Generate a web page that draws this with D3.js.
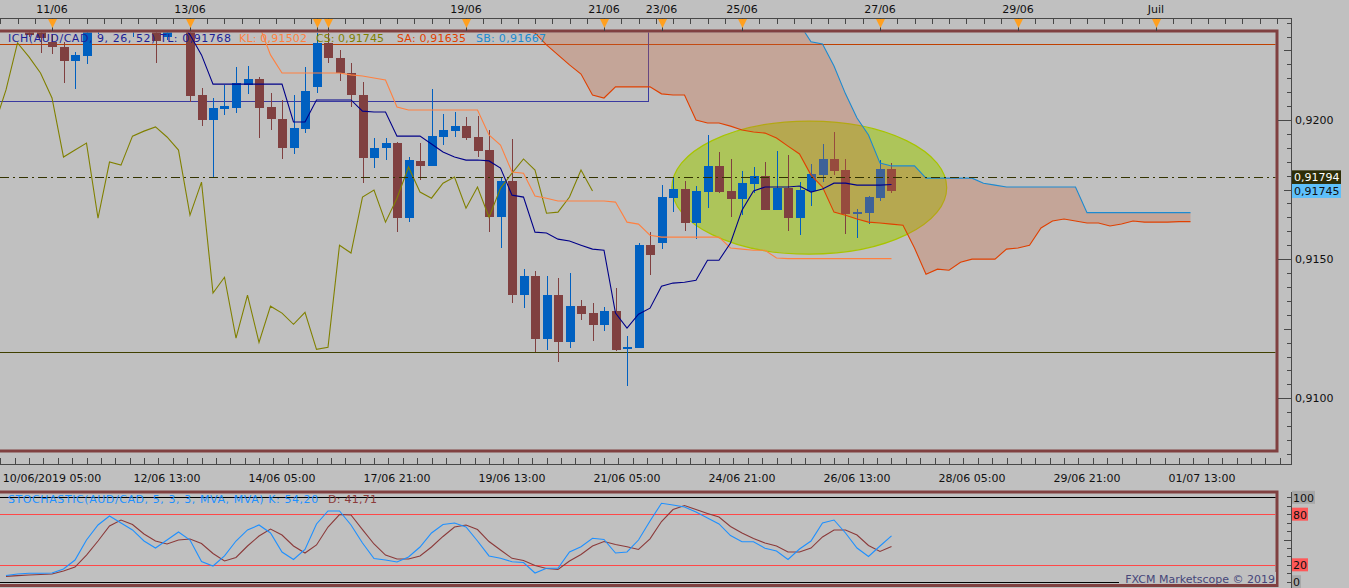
<!DOCTYPE html>
<html lang="fr">
<head>
<meta charset="utf-8">
<title>AUD/CAD - Ichimoku / Stochastic</title>
<script src="https://d3js.org/d3.v7.min.js"></script>
<style>
  body { margin: 0; background: #c0c0c0; overflow: hidden; }
  svg { display: block; font-family: "DejaVu Sans", Verdana, sans-serif; font-size: 11px; }
</style>
</head>
<body>
<script>
// 4h bars, bar 0 = 12/06 13:00, first bar in the arrays = -14
var firstBar = -14;
var open = [0.92345,0.92355,0.92331,0.92331,0.92281,0.92264,0.92213,0.92230,0.92320,0.92350,0.92340,0.92342,0.92360,0.92360,
  0.92300,0.92353,0.92353,0.92090,0.92000,0.92040,0.92043,0.92126,0.92147,0.92047,
  0.92004,0.91899,0.91968,0.92119,0.92277,0.92223,0.92169,0.92090,0.91863,0.91899,
  0.91917,0.91647,0.91853,0.91835,0.91939,0.91960,0.91978,0.91939,0.91892,0.91651,
  0.91781,0.91371,0.91439,0.91212,0.91371,0.91201,0.91331,0.91306,0.91263,0.91313,
  0.91176,0.91180,0.91550,0.91558,0.91719,0.91752,0.91630,0.91741,0.91835,0.91745,
  0.91716,0.91770,0.91799,0.91676,0.91755,0.91647,0.91745,0.91802,0.91860,0.91820,
  0.91662,0.91665,0.91719,0.91824];
var high = [0.92365,0.92375,0.92342,0.92338,0.92306,0.92281,0.92245,0.92327,0.92360,0.92380,0.92370,0.92378,0.92385,0.92378,
  0.92367,0.92375,0.92367,0.92115,0.92079,0.92126,0.92191,0.92194,0.92155,0.92097,
  0.92072,0.92090,0.92191,0.92313,0.92313,0.92252,0.92205,0.92137,0.91935,0.91935,
  0.91921,0.91867,0.91917,0.92112,0.92022,0.92029,0.92011,0.92014,0.91964,0.91791,
  0.91932,0.91464,0.91457,0.91439,0.91432,0.91450,0.91353,0.91342,0.91327,0.91396,
  0.91223,0.91558,0.91597,0.91766,0.91795,0.91781,0.91763,0.91946,0.91885,0.91860,
  0.91817,0.91831,0.91849,0.91888,0.91874,0.91777,0.91842,0.91914,0.91957,0.91860,
  0.91680,0.91727,0.91856,0.91845];
var low = [0.92330,0.92335,0.92299,0.92241,0.92237,0.92133,0.92113,0.92201,0.92310,0.92330,0.92325,0.92299,0.92335,0.92205,
  0.92288,0.92330,0.92065,0.91978,0.91795,0.92018,0.92025,0.92094,0.91935,0.91964,
  0.91860,0.91878,0.91953,0.92097,0.92205,0.92140,0.92047,0.91773,0.91827,0.91856,
  0.91597,0.91633,0.91784,0.91835,0.91910,0.91939,0.91928,0.91867,0.91597,0.91540,
  0.91342,0.91324,0.91166,0.91173,0.91129,0.91180,0.91281,0.91205,0.91241,0.91170,
  0.91043,0.91180,0.91442,0.91536,0.91669,0.91601,0.91572,0.91683,0.91737,0.91651,
  0.91658,0.91737,0.91676,0.91676,0.91601,0.91586,0.91691,0.91777,0.91802,0.91590,
  0.91576,0.91626,0.91709,0.91737];
var close = [0.92355,0.92340,0.92306,0.92295,0.92263,0.92213,0.92234,0.92320,0.92350,0.92340,0.92360,0.92360,0.92345,0.92285,
  0.92353,0.92340,0.92086,0.92000,0.92043,0.92050,0.92133,0.92147,0.92043,0.92004,
  0.91899,0.91971,0.92104,0.92277,0.92223,0.92169,0.92090,0.91863,0.91899,0.91917,
  0.91647,0.91856,0.91835,0.91942,0.91964,0.91978,0.91935,0.91888,0.91651,0.91781,
  0.91371,0.91439,0.91212,0.91371,0.91201,0.91331,0.91302,0.91263,0.91313,0.91173,
  0.91183,0.91550,0.91514,0.91723,0.91752,0.91630,0.91745,0.91835,0.91741,0.91716,
  0.91773,0.91799,0.91676,0.91755,0.91647,0.91748,0.91806,0.91860,0.91817,0.91662,
  0.91669,0.91723,0.91824,0.91745];

// Ichimoku lines (each with its first bar)
var tenkanStart = 1;
var tenkan = [0.92360,0.92306,0.92234,0.92129,0.92129,0.92129,0.92129,0.92129,0.92129,0.92129,
  0.91993,0.91993,0.92072,0.92072,0.92072,0.92072,0.92032,0.92029,0.92029,0.91942,
  0.91942,0.91942,0.91914,0.91885,0.91867,0.91856,0.91856,0.91853,0.91827,0.91730,
  0.91723,0.91597,0.91594,0.91572,0.91565,0.91550,0.91536,0.91532,0.91306,0.91252,
  0.91302,0.91324,0.91403,0.91414,0.91417,0.91424,0.91496,0.91496,0.91558,0.91676,
  0.91745,0.91759,0.91759,0.91759,0.91763,0.91741,0.91752,0.91773,0.91773,0.91766,
  0.91766,0.91766,0.91768];
var kijunStart = 8;
var kijun = [0.92342,0.92234,0.92169,0.92169,0.92169,0.92169,0.92169,0.92169,0.92162,0.92158,
  0.92151,0.92144,0.92047,0.92036,0.92036,0.92036,0.92036,0.92036,0.92036,0.92036,
  0.91946,0.91910,0.91813,0.91809,0.91727,0.91719,0.91709,0.91709,0.91709,0.91709,
  0.91709,0.91705,0.91633,0.91626,0.91586,0.91579,0.91579,0.91579,0.91579,0.91579,
  0.91579,0.91540,0.91536,0.91532,0.91532,0.91504,0.91502,0.91502,0.91502,0.91502,
  0.91502,0.91502,0.91502,0.91502,0.91502,0.91502];
var spanStart = 30;
var senkouA = [0.92324,0.92320,0.92313,0.92270,0.92234,0.92198,0.92165,0.92090,0.92079,0.92119,
  0.92119,0.92119,0.92119,0.92094,0.92090,0.92090,0.92000,0.91989,0.91989,0.91978,
  0.91964,0.91957,0.91953,0.91935,0.91906,0.91878,0.91802,0.91759,0.91669,0.91658,
  0.91644,0.91633,0.91630,0.91626,0.91622,0.91540,0.91446,0.91464,0.91460,0.91489,
  0.91500,0.91500,0.91500,0.91536,0.91540,0.91550,0.91612,0.91637,0.91644,0.91637,
  0.91630,0.91630,0.91619,0.91626,0.91637,0.91633,0.91633,0.91633,0.91635,0.91635];
var senkouB = [0.92385,0.92385,0.92385,0.92385,0.92385,0.92385,0.92385,0.92385,0.92385,0.92385,
  0.92385,0.92385,0.92385,0.92385,0.92385,0.92385,0.92385,0.92385,0.92385,0.92385,
  0.92385,0.92385,0.92385,0.92385,0.92385,0.92345,0.92281,0.92273,0.92194,0.92094,
  0.92007,0.91946,0.91845,0.91835,0.91835,0.91835,0.91791,0.91791,0.91791,0.91791,
  0.91791,0.91773,0.91766,0.91759,0.91759,0.91759,0.91759,0.91759,0.91759,0.91759,
  0.91667,0.91667,0.91667,0.91667,0.91667,0.91667,0.91667,0.91667,0.91667,0.91667];
var chikouStart = -15;
var chikou = [0.91982,0.92108,0.92277,0.92227,0.92169,0.92079,0.91867,0.91892,0.91917,0.91647,
  0.91849,0.91838,0.91942,0.91960,0.91975,0.91939,0.91892,0.91658,0.91777,0.91378,
  0.91435,0.91216,0.91371,0.91201,0.91331,0.91306,0.91266,0.91309,0.91176,0.91183,
  0.91550,0.91522,0.91723,0.91748,0.91633,0.91719,0.91831,0.91741,0.91719,0.91773,
  0.91795,0.91683,0.91759,0.91651,0.91755,0.91809,0.91860,0.91820,0.91665,0.91669,
  0.91723,0.91820,0.91745];

// Stochastic 5,3,3 (same bars as candles)
var stochK = [7.3,9.1,10,10,10.3,15,25.7,49.4,67.2,77.8,69.5,61.3,48.2,39.9,
  49.4,58.9,49.4,23.9,18.6,30.5,48.2,61.3,67.2,57.7,
  35.2,26.3,38.2,68.4,83.8,83.8,67.2,45.9,27.5,25.7,
  23.3,29.3,41.1,57.7,67.8,69.5,64.8,48.2,30.5,27.7,
  23.7,22.7,10.3,15.9,15.9,35.2,41.5,51.4,50,34,
  35.2,49.4,71.9,92.9,90.9,88.5,82.6,75.5,68.4,54.7,
  47.4,47.4,39.6,36.4,26.3,38.7,48.2,69.5,73.1,57.7,
  39.9,29.9,42.3,54.20];
var stochD = [6.3,7.2,7.9,8.6,9.1,12.7,17.4,31.6,48.2,66,73.1,67.8,56.5,48.2,
  44.7,49.4,50.6,45.3,33.4,24.5,28.7,42.3,54.1,62.4,
  55.3,42.3,34,43.5,64.8,79.6,79,61.8,44.7,31.6,
  26.9,26.9,30.5,41.1,53.6,64.8,67.2,61.8,47.6,37.6,
  27.7,25.1,19.2,15.6,14.5,24.5,32.2,42.3,47.6,44.1,
  41.5,38.2,50.8,71.3,85.5,90.3,85.5,80.8,76.7,65.4,
  57.7,51.2,45.9,42.3,35.2,35.2,39.9,53,61.3,61.3,
  55.3,42.9,35.8,41.71];
var stochLevels = [0, 20, 80, 100];

// time axes
var dayBars = [-10, 2, 26, 38, 43, 50, 62, 74, 86];
var dayLabels = ["11/06", "13/06", "19/06", "21/06", "23/06", "25/06", "27/06", "29/06", "Juil"];
var markerBars = [13, 14];
var timeBars = [-10, 0, 10, 20, 30, 40, 50, 60, 70, 80, 90];
var timeLabels = ["10/06/2019 05:00", "12/06 13:00", "14/06 05:00", "17/06 21:00", "19/06 13:00",
  "21/06 05:00", "24/06 21:00", "26/06 13:00", "28/06 05:00", "29/06 21:00", "01/07 13:00"];

// drawings on the chart
var lastPrice = 0.91794;
var redLevel = 0.92273, oliveLevel = 0.91166;
var boxBars = [-20, 41.9], boxPrices = [0.92065, 0.9245];
var ellipseBars = [43.9, 67.8], ellipsePrices = [0.91518, 0.91996];

var fr = d3.formatLocale({decimal: ",", thousands: " ", grouping: [3], currency: ["", ""]});
var f4 = fr.format(".4f"), f5 = fr.format(".5f"), f2 = fr.format(".2f");

var svg = d3.select("body").append("svg").attr("width", 1349).attr("height", 588);
svg.append("rect").attr("width", 1349).attr("height", 588).attr("fill", "#c0c0c0");

var x = d3.scaleLinear().domain([-10, 90]).range([52, 1202]);
var y = d3.scaleLinear().domain([0.9100, 0.9200]).range([398.3, 120]);
var ys = d3.scaleLinear().domain([0, 100]).range([581.7, 497.3]);

var defs = svg.append("defs");
defs.append("clipPath").attr("id", "clipMain").append("rect")
    .attr("x", 0).attr("y", 32.5).attr("width", 1275.5).attr("height", 417);
defs.append("clipPath").attr("id", "clipStoch").append("rect")
    .attr("x", 0).attr("y", 493.5).attr("width", 1275.5).attr("height", 90.5);

function series(start, vals) {
    return vals.map(function(v, k) { return {i: start + k, v: v}; });
}
var bars = open.map(function(o, k) {
    return {i: firstBar + k, o: o, h: high[k], l: low[k], c: close[k]};
});

var g = svg.append("g").attr("clip-path", "url(#clipMain)");

// horizontal drawings + box
g.append("line").attr("x1", 0).attr("x2", 1277).attr("y1", y(redLevel)).attr("y2", y(redLevel))
    .attr("stroke", "#c04000").attr("shape-rendering", "crispEdges");
g.append("line").attr("x1", 0).attr("x2", 1277).attr("y1", y(oliveLevel)).attr("y2", y(oliveLevel))
    .attr("stroke", "#404000").attr("shape-rendering", "crispEdges");
g.append("rect")
    .attr("x", x(boxBars[0])).attr("y", y(boxPrices[1]))
    .attr("width", x(boxBars[1]) - x(boxBars[0])).attr("height", y(boxPrices[0]) - y(boxPrices[1]))
    .attr("fill", "none").attr("stroke", "#3a3aa0").attr("shape-rendering", "crispEdges");

// highlight ellipse
g.append("ellipse")
    .attr("cx", (x(ellipseBars[0]) + x(ellipseBars[1])) / 2)
    .attr("cy", (y(ellipsePrices[0]) + y(ellipsePrices[1])) / 2)
    .attr("rx", (x(ellipseBars[1]) - x(ellipseBars[0])) / 2)
    .attr("ry", (y(ellipsePrices[0]) - y(ellipsePrices[1])) / 2)
    .attr("fill", "#a7c738").attr("fill-opacity", 0.75)
    .attr("stroke", "#a8c400").attr("stroke-width", 1.2);

// candles
var upCol = "#0060c0", downCol = "#804040";
var cg = g.append("g").attr("shape-rendering", "crispEdges");
cg.selectAll(".wick").data(bars).enter().append("line")
    .attr("x1", function(d) { return Math.round(x(d.i)) + 0.5; })
    .attr("x2", function(d) { return Math.round(x(d.i)) + 0.5; })
    .attr("y1", function(d) { return y(d.h); })
    .attr("y2", function(d) { return y(d.l); })
    .attr("stroke", function(d) { return d.c >= d.o ? upCol : downCol; });
cg.selectAll(".body").data(bars).enter().append("rect")
    .attr("x", function(d) { return Math.round(x(d.i)) - 4; })
    .attr("width", 9)
    .attr("y", function(d) { return y(Math.max(d.o, d.c)); })
    .attr("height", function(d) { return Math.max(2, Math.abs(y(d.o) - y(d.c))); })
    .attr("fill", function(d) { return d.c >= d.o ? upCol : downCol; });

// kumo
var cloud = senkouA.map(function(a, k) { return {i: spanStart + k, a: a, b: senkouB[k]}; });
g.append("path").datum(cloud)
    .attr("d", d3.area().x(function(d) { return x(d.i); })
        .y0(function(d) { return y(d.a); }).y1(function(d) { return y(d.b); }))
    .attr("fill", "#cd663b").attr("fill-opacity", 0.3);

var line = d3.line().x(function(d) { return x(d.i); }).y(function(d) { return y(d.v); });
[[chikouStart, chikou, "#808000"], [spanStart, senkouA, "#e04000"], [spanStart, senkouB, "#1c8ad0"],
 [kijunStart, kijun, "#ff8040"], [tenkanStart, tenkan, "#000088"]].forEach(function(s) {
    g.append("path").datum(series(s[0], s[1])).attr("d", line)
        .attr("fill", "none").attr("stroke", s[2]).attr("stroke-width", 1.1);
});

// current price dash-dot
g.append("line").attr("x1", 0).attr("x2", 1277).attr("y1", y(lastPrice)).attr("y2", y(lastPrice))
    .attr("stroke", "#333300").attr("stroke-dasharray", "9,4,2,4").attr("shape-rendering", "crispEdges");

// legend texts: measured, then letter-spaced to the width seen in the chart
function legendText(px, py, w, col, str) {
    var t = svg.append("text").attr("x", px).attr("y", py).attr("fill", col).text(str);
    var natural = t.node().getComputedTextLength();
    var gap = (w - natural) / Math.max(1, str.length - 1);
    t.style("letter-spacing", gap.toFixed(2) + "px");
    return t;
}
legendText(8, 42, 223, "#1e1e96", "ICH(AUD/CAD, 9, 26, 52) TL: " + f5(tenkan[tenkan.length - 1]));
legendText(239, 42, 68, "#ff8040", "KL: " + f5(kijun[kijun.length - 1]));
legendText(316, 42, 68, "#808000", "CS: " + f5(chikou[chikou.length - 1]));
legendText(397, 42, 69, "#e04000", "SA: " + f5(senkouA[senkouA.length - 1]));
legendText(476, 42, 70, "#1c8ad0", "SB: " + f5(senkouB[senkouB.length - 1]));

// panel borders
var border = "#804040";
svg.append("path").attr("d", "M0,31H1277V451H0").attr("fill", "none")
    .attr("stroke", border).attr("stroke-width", 3);
svg.append("path").attr("d", "M0,492H1277V585.5H0").attr("fill", "none")
    .attr("stroke", border).attr("stroke-width", 3);

// axis frame
var axCol = "#484848";
var ax = svg.append("g").attr("stroke", axCol).attr("shape-rendering", "crispEdges");
ax.append("path").attr("d", "M0,18.5H1291.5V464.5H0").attr("fill", "none");
ax.append("path").attr("d", "M1291.5,492V588").attr("fill", "none");

// top time axis
ax.selectAll(".tt").data(d3.range(-14.5, 97, 1.5)).enter().append("line")
    .attr("x1", function(d) { return Math.round(x(d)) + 0.5; })
    .attr("x2", function(d) { return Math.round(x(d)) + 0.5; })
    .attr("y1", 18).attr("y2", 24);
var tri = svg.append("g");
dayBars.concat(markerBars).forEach(function(b) {
    var px = Math.round(x(b)) + 0.5;
    tri.append("line").attr("x1", px).attr("x2", px).attr("y1", 18).attr("y2", 31)
        .attr("stroke", "#404040").attr("shape-rendering", "crispEdges");
    tri.append("path").attr("d", "M" + (px - 4.5) + ",19L" + (px + 4.5) + ",19L" + px + ",28Z")
        .attr("fill", "#ffa020");
});
svg.selectAll(".dayLab").data(dayBars).enter().append("text")
    .attr("x", function(d) { return x(d); }).attr("y", 13)
    .attr("text-anchor", "middle").attr("fill", "#101010")
    .text(function(d, k) { return dayLabels[k]; });

// bottom time axis
ax.selectAll(".bt").data(d3.range(-14.5, 98, 1.25)).enter().append("line")
    .attr("x1", function(d) { return Math.round(x(d)) + 0.5; })
    .attr("x2", function(d) { return Math.round(x(d)) + 0.5; })
    .attr("y1", function(d) { return (d % 10 === 0) ? 452 : 458; })
    .attr("y2", 464);
svg.selectAll(".timeLab").data(timeBars).enter().append("text")
    .attr("x", function(d) { return x(d); }).attr("y", 482)
    .attr("text-anchor", "middle").attr("fill", "#101010")
    .text(function(d, k) { return timeLabels[k]; });

// price axis
var kLo = Math.ceil(y.invert(464) / 0.0005), kHi = Math.floor(y.invert(18) / 0.0005);
ax.selectAll(".pt").data(d3.range(kLo, kHi + 1)).enter().append("line")
    .attr("x1", function(k) { return k % 10 === 0 ? 1278 : (k % 5 === 0 ? 1284 : 1287); })
    .attr("x2", 1291)
    .attr("y1", function(k) { return Math.round(y(k * 0.0005)) + 0.5; })
    .attr("y2", function(k) { return Math.round(y(k * 0.0005)) + 0.5; });
svg.selectAll(".pLab").data(d3.range(kLo, kHi + 1).filter(function(k) { return k % 10 === 0; }))
    .enter().append("text")
    .attr("x", 1295).attr("y", function(k) { return y(k * 0.0005) + 4; })
    .attr("fill", "#101010")
    .text(function(k) { return f4(k * 0.0005); });

// price boxes
[[lastPrice, "#2e2e08", "#ffffff"], [chikou[chikou.length - 1], "#5ec0fa", "#101010"]].forEach(function(b) {
    svg.append("rect").attr("x", 1292).attr("y", y(b[0]) - 7).attr("width", 49).attr("height", 14)
        .attr("fill", b[1]);
    svg.append("text").attr("x", 1294).attr("y", y(b[0]) + 4).attr("fill", b[2]).text(f5(b[0]));
});

// stochastic panel
var sg = svg.append("g").attr("clip-path", "url(#clipStoch)");
stochLevels.forEach(function(v) {
    sg.append("line").attr("x1", 0).attr("x2", 1277)
        .attr("y1", Math.round(ys(v)) + 0.5).attr("y2", Math.round(ys(v)) + 0.5)
        .attr("stroke", (v === 0 || v === 100) ? "#000000" : "#ff4848")
        .attr("shape-rendering", "crispEdges");
});
var sline = d3.line().x(function(d) { return x(d.i); }).y(function(d) { return ys(d.v); });
sg.append("path").datum(series(firstBar, stochD)).attr("d", sline)
    .attr("fill", "none").attr("stroke", "#8b3a3a").attr("stroke-width", 1.1);
sg.append("path").datum(series(firstBar, stochK)).attr("d", sline)
    .attr("fill", "none").attr("stroke", "#1e90ff").attr("stroke-width", 1.1);

legendText(8, 503, 311, "#1e90ff",
    "STOCHASTIC(AUD/CAD, 5, 3, 3, MVA, MVA)  K: " + f2(stochK[stochK.length - 1]));
legendText(328, 503, 49, "#8b3a3a", "D: " + f2(stochD[stochD.length - 1]));

ax.selectAll(".st").data(d3.range(0, 101, 10)).enter().append("line")
    .attr("x1", function(v) { return v === 50 ? 1284 : 1287; }).attr("x2", 1291)
    .attr("y1", function(v) { return Math.round(ys(v)) + 0.5; })
    .attr("y2", function(v) { return Math.round(ys(v)) + 0.5; });
stochLevels.forEach(function(v) {
    var lab = String(v);
    var w = lab.length * 7 + 2;
    svg.append("rect").attr("x", 1292).attr("y", ys(v) - 6.5).attr("width", w).attr("height", 13)
        .attr("fill", (v === 0 || v === 100) ? "#a8a8a8" : "#ff5858");
    svg.append("text").attr("x", 1293).attr("y", ys(v) + 4.5).attr("fill", "#101010").text(lab);
});

// watermark
svg.append("rect").attr("x", 1119).attr("y", 572).attr("width", 157).attr("height", 12).attr("fill", "#c0c0c0");
svg.append("text").attr("x", 1275).attr("y", 583).attr("text-anchor", "end")
    .attr("fill", "#46467a").text("FXCM Marketscope \u00a9 2019");
</script>
</body>
</html>
